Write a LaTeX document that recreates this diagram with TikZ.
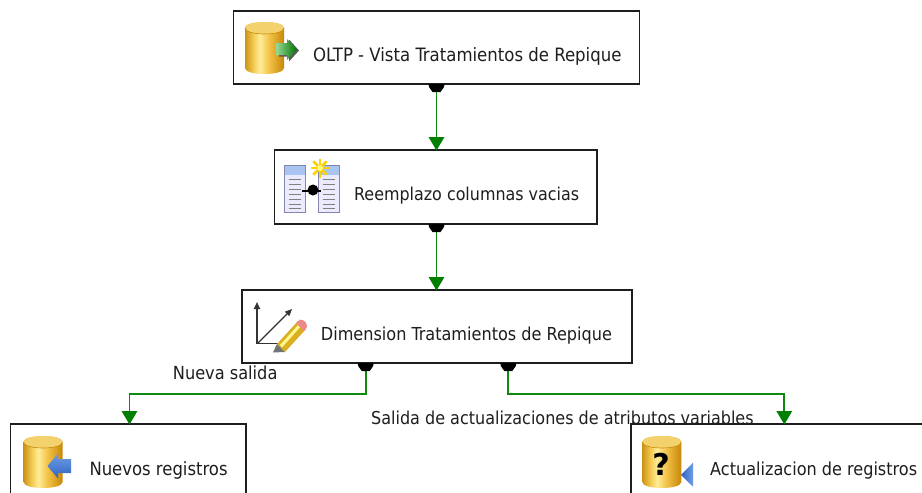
\documentclass[tikz,border=0pt]{standalone}
\usepackage{fontspec}
\setmainfont{DejaVu Sans Condensed}
\newfontfamily\qfont{DejaVu Sans}
\usetikzlibrary{arrows.meta}
\definecolor{ink}{HTML}{1E1E1E}
\definecolor{flowgreen}{HTML}{0E8A0E}
\definecolor{tipgreen}{HTML}{007F00}
\definecolor{goldc}{HTML}{C98A06}
\definecolor{goldtop}{HTML}{F3D26E}
\definecolor{headblue}{HTML}{A9C4F0}
\definecolor{arrowblue}{HTML}{6F9FE8}
\definecolor{arrowdark}{HTML}{2F62C0}
\pgfdeclarehorizontalshading{goldcyl}{100bp}{
  rgb(0bp)=(0.80,0.58,0.08);
  rgb(25bp)=(0.80,0.58,0.08);
  rgb(36bp)=(0.96,0.80,0.33);
  rgb(44bp)=(1.00,0.93,0.60);
  rgb(56bp)=(0.95,0.76,0.28);
  rgb(75bp)=(0.78,0.53,0.03);
  rgb(100bp)=(0.78,0.53,0.03)}
\tikzset{
  x=1pt,y=-1pt,
  box/.style={draw=ink,line width=1.4pt,fill=white,rectangle,inner sep=0pt},
  txt/.style={anchor=base west,inner sep=0pt,text=ink,font=\fontsize{#1}{20}\selectfont},
  flow/.style={draw=flowgreen,line width=1.7pt,-{Triangle[width=15.5pt,length=13.5pt,color=tipgreen]}},
  pics/portmark/.style={code={\fill[black] (-8,0) -- (8,0) -- (7.5,3) -- (4,8) -- (-4,8) -- (-7.5,3) -- cycle;}},
  pics/dbcyl/.style={code={
    \shade[shading=goldcyl]
      (0,6) -- (0,46) .. controls (0,54) and (39,54) .. (39,46) -- (39,6) .. controls (39,-2) and (0,-2) .. (0,6) -- cycle;
    \fill[goldtop] (0,6) .. controls (0,14) and (39,14) .. (39,6) .. controls (39,-2) and (0,-2) .. (0,6) -- cycle;
    \draw[goldc,line width=.6pt] (0,6) .. controls (0,14) and (39,14) .. (39,6);
  }}
}
\begin{document}
\begin{tikzpicture}
\useasboundingbox (0,0) rectangle (922,493);
\clip (0,0) rectangle (922,493);

% boxes
\node[box,minimum width=406pt,minimum height=73pt] (b1) at (436.75,47.5) {};
\node[box,minimum width=322.5pt,minimum height=74pt] (b2) at (435.75,187) {};
\node[box,minimum width=390pt,minimum height=73pt] (b3) at (437,326.5) {};

% label that the lower right box covers
\node[txt=17.8] (l2) at (371,424) {Salida de actualizaciones de atributos variables};

\node[box,minimum width=235.5pt,minimum height=90pt] (b4) at (128.25,469) {};
\node[box,minimum width=310pt,minimum height=90pt] (b5) at (786,469) {};

% ports and connector ends
\coordinate (p1) at (436.5,84);
\coordinate (p2) at (436.5,224);
\coordinate (p3) at (365.7,363);
\coordinate (p4) at (508.3,363);
\coordinate (t2) at (436.5,150.5);
\coordinate (t3) at (436.5,290.5);
\coordinate (t4) at (129.5,424.5);
\coordinate (t5) at (784.3,424.5);
\coordinate (m4) at (129.5,394.3);
\coordinate (m5) at (784.3,394.3);

\draw[flow] (p1) -- (t2);
\draw[flow] (p2) -- (t3);
\draw[flow] (p3) |- (m4) -- (t4);
\draw[flow] (p4) |- (m5) -- (t5);
\foreach \p in {p1,p2,p3,p4} \pic at (\p) {portmark};

% texts
\node[txt=18.4] (n1) at (313,61) {OLTP - Vista Tratamientos de Repique};
\node[txt=17.7] (n2) at (354,200) {Reemplazo columnas vacias};
\node[txt=17.9] (n3) at (320.7,340) {Dimension Tratamientos de Repique};
\node[txt=18.3] (n4) at (89.3,475) {Nuevos registros};
\node[txt=17.9] (n5) at (710,475) {Actualizacion de registros};
\node[txt=18] (l1) at (172.7,379.3) {Nueva salida};

% icon: source
\pic at (245,22) {dbcyl};
\fill[black!65] (279,44.5) -- (289,44.5) -- (289,39.5) -- (299,50.5) -- (289,61.5) -- (289,56.5) -- (279,56.5) -- cycle;
\shade[left color=green!30!white!85!black,right color=green!45!black]
  (276,43) -- (287,43) -- (287,39) -- (297,49.5) -- (287,60) -- (287,55) -- (276,55) -- cycle;

% icon: derived columns
\foreach \tx in {284.5,318.7}{
  \begin{scope}[shift={(\tx,165)}]
    \fill[white!92!blue] (0,0) rectangle (20.5,47);
    \fill[headblue] (0,0) rectangle (20.5,10);
    \draw[blue!20!gray!80!white,line width=.9pt] (0,0) rectangle (20.5,47);
    \foreach \ry in {14,19,24,29,34,39,43}
      \draw[gray,line width=.9pt] (4,\ry) -- (16,\ry);
  \end{scope}
}
\draw[black,line width=2pt] (302,191) -- (321,191);
\fill[black] (313,190) circle[radius=5.5pt];
\foreach \ang in {0,45,...,315}
  \draw[yellow!70!orange,line width=2.6pt] (320,168) -- ++(\ang:9.5);
\fill[yellow!50!white] (320,168) circle[radius=3pt];

% icon: axes and pencil
\draw[black!80,line width=1.6pt,-{Triangle[width=6pt,length=7pt]}] (257,344) -- (257,302);
\draw[black!80,line width=1.6pt] (256,343.3) -- (279,343.3);
\draw[black!80,line width=1.1pt,-{Triangle[width=6pt,length=7pt]}] (258,343) -- (292,309);
\fill[yellow!55!orange!85!black] (277,344) -- (298,321) -- (306,329) -- (285,352) -- cycle;
\fill[yellow!45!white] (280,345) -- (300,323) -- (302,325) -- (282,347.5) -- cycle;
\fill[red!45!white!85!gray] (296,323) -- (300,319.5) .. controls (305,320) and (307,323) .. (307,327) -- (304,331) -- cycle;
\fill[black!55] (277,344) -- (285,352) -- (273,352.5) -- cycle;

% icon: destination
\pic at (23.5,436) {dbcyl};
\shade[top color=arrowblue,bottom color=arrowdark]
  (47.5,466) -- (58,453.5) -- (58,459) -- (71,459) -- (71,473) -- (58,473) -- (58,478.5) -- cycle;

% icon: update destination
\pic at (642.3,436) {dbcyl};
\node[inner sep=0pt,text=black,font=\qfont\bfseries\fontsize{30}{32}\selectfont] (q) at (661,464) {?};
\shade[left color=arrowdark,right color=arrowblue]
  (681,475) -- (693,462.7) -- (693,486.7) -- cycle;
\end{tikzpicture}
\end{document}
